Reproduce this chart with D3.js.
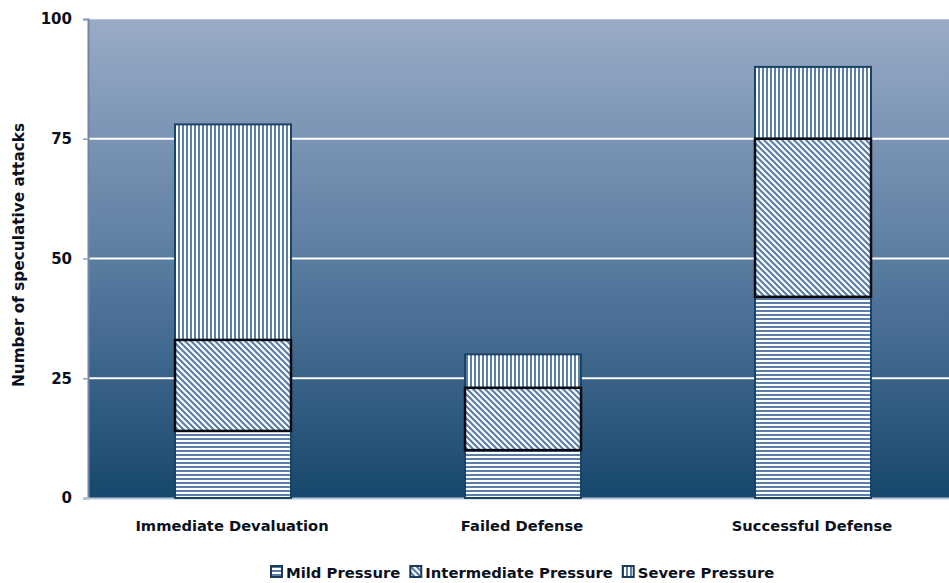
<!DOCTYPE html>
<html><head><meta charset="utf-8">
<script src="https://cdn.jsdelivr.net/npm/d3@7"></script>
<style>body{margin:0;background:#fff;}svg{display:block;}</style>
</head><body>
<svg id="c" width="949" height="583"></svg>
<script>
const categories = ["Immediate Devaluation", "Failed Defense", "Successful Defense"];
const seriesNames = ["Mild Pressure", "Intermediate Pressure", "Severe Pressure"];
const mild = [14, 10, 42];
const intermediate = [19, 13, 33];
const severe = [45, 7, 15];
const yTicks = [0, 25, 50, 75, 100];
const yTitle = "Number of speculative attacks";

(function(){
const svg = d3.select("#c");
const mLeft = 88, mRight = 958, mTop = 19, mBottom = 498, plotRight = 949;
const x = d3.scaleBand().domain(categories).range([mLeft, mRight]).paddingInner(0.6).paddingOuter(0.3);
const y = d3.scaleLinear().domain([0, 100]).range([mBottom, mTop]);
const font = "'DejaVu Sans', sans-serif";
const ink = "#0b1120";

const defs = svg.append("defs");
const grad = defs.append("linearGradient").attr("id","bg").attr("x1",0).attr("y1",0).attr("x2",0).attr("y2",1);
grad.append("stop").attr("offset","0%").attr("stop-color","#9aabc7");
grad.append("stop").attr("offset","50%").attr("stop-color","#5b7da2");
grad.append("stop").attr("offset","100%").attr("stop-color","#17476c");

const blue = "#5a7ea8";
function pat(id, w, h, draw){
  const p = defs.append("pattern").attr("id", id).attr("patternUnits","userSpaceOnUse").attr("width", w).attr("height", h);
  p.append("rect").attr("width", w).attr("height", h).attr("fill", "#fff");
  draw(p);
}
pat("pMild", 8, 4, p => p.append("rect").attr("x",0).attr("y",2).attr("width",8).attr("height",2).attr("fill",blue));
pat("pSev", 4, 8, p => p.append("rect").attr("x",2).attr("y",0).attr("width",2).attr("height",8).attr("fill",blue));
pat("pInt", 6, 6, p => {
  p.append("path").attr("d","M-1,-1 L7,7 M-4,2 L4,10 M2,-4 L10,4").attr("stroke",blue).attr("stroke-width",2.2);
});

svg.append("rect").attr("x", mLeft).attr("y", mTop).attr("width", plotRight-mLeft).attr("height", mBottom-mTop).attr("fill","url(#bg)");
svg.append("line").attr("x1",mLeft).attr("x2",plotRight).attr("y1",mTop+0.5).attr("y2",mTop+0.5).attr("stroke","#b5c3d6").attr("stroke-width",1);

svg.append("g").selectAll("line").data(yTicks.filter(d => d>0 && d<100)).join("line")
  .attr("x1", mLeft).attr("x2", plotRight).attr("y1", d => y(d)).attr("y2", d => y(d))
  .attr("stroke","#fff").attr("stroke-width",2);

const yAxis = svg.append("g").attr("transform",`translate(${mLeft},0)`)
  .call(d3.axisLeft(y).tickValues(yTicks).tickSize(5).tickPadding(11));
yAxis.select(".domain").attr("stroke","#6f87a5").attr("stroke-width",2);
yAxis.selectAll(".tick line").attr("stroke","#8fa2ba").attr("stroke-width",1.5);
yAxis.selectAll(".tick text").attr("font-family",font).attr("font-weight","bold").attr("font-size",15).attr("fill",ink);

svg.append("line").attr("x1",mLeft-5).attr("x2",plotRight).attr("y1",mBottom+0.5).attr("y2",mBottom+0.5).attr("stroke","#b7c6d8").attr("stroke-width",2);

svg.append("text").attr("transform",`translate(24,255) rotate(-90)`).attr("text-anchor","middle")
  .attr("font-family",font).attr("font-weight","bold").attr("font-size",15.3).attr("fill",ink).text(yTitle);

const series = [mild, intermediate, severe];
const fills = ["url(#pMild)","url(#pInt)","url(#pSev)"];
const strokes = ["#1a4466","#0a0a14","#1a4466"];
const order = [0, 2, 1];
order.forEach(si => {
  svg.append("g").selectAll("rect").data(categories).join("rect")
    .attr("x", c => x(c))
    .attr("width", x.bandwidth())
    .attr("y", (c,i) => y(d3.sum(series.slice(0, si+1), s => s[i])))
    .attr("height", (c,i) => y(d3.sum(series.slice(0, si), s => s[i])) - y(d3.sum(series.slice(0, si+1), s => s[i])))
    .attr("fill", fills[si]).attr("stroke", strokes[si]).attr("stroke-width", si === 1 ? 2.5 : 2);
});

svg.append("g").selectAll("text").data(categories).join("text")
  .attr("x", c => x(c) + x.bandwidth()/2 - 1).attr("y", 531).attr("text-anchor","middle")
  .attr("font-family",font).attr("font-weight","bold").attr("font-size",14.7).attr("fill",ink)
  .text(c => c);

const lg = svg.append("g");
let lx = 270;
seriesNames.forEach((n, i) => {
  lg.append("rect").attr("x", lx+1).attr("y", 566).attr("width", 11).attr("height", 11)
    .attr("fill", fills[i]).attr("stroke", "#1a3a5a").attr("stroke-width", 2);
  const t = lg.append("text").attr("x", lx+16).attr("y", 578)
    .attr("font-family",font).attr("font-weight","bold").attr("font-size",14.8).attr("fill",ink)
    .text(n);
  lx = lx + 16 + t.node().getComputedTextLength() + 9;
});
})();
</script>
</body></html>
